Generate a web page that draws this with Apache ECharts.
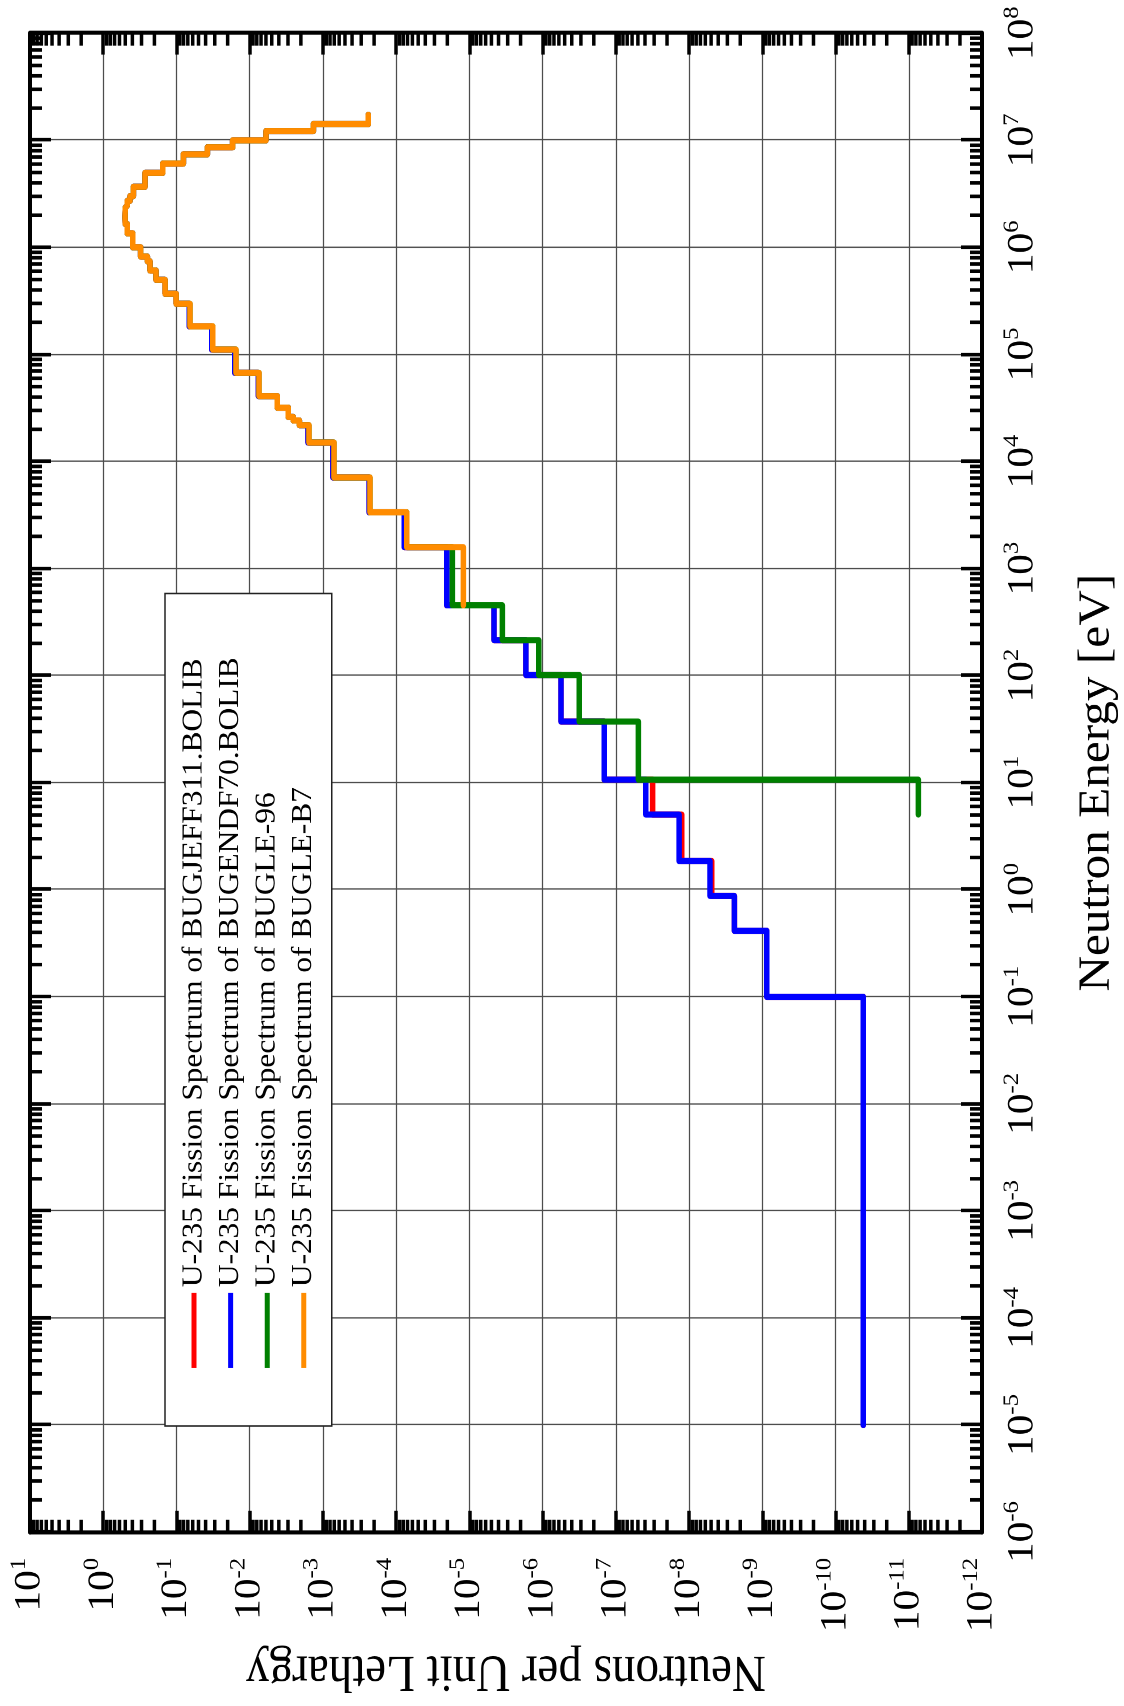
<!DOCTYPE html>
<html>
<head>
<meta charset="utf-8">
<title>U-235 Fission Spectrum</title>
<script src="https://cdn.jsdelivr.net/npm/echarts@6/dist/echarts.min.js"></script>
<style>
  html, body { margin: 0; padding: 0; background: #ffffff; }
  body { width: 1124px; height: 1706px; overflow: hidden; position: relative; }
  /* the plot is drawn upright, then turned a quarter turn like the original figure */
  #chart {
    position: absolute; left: 0; top: 0;
    width: 1523px; height: 1124px;
    transform-origin: 0 0;
    transform: translate(0, 1706px) rotate(-90deg) scaleX(1.12);
  }
</style>
</head>
<body>
<div id="chart"></div>
<script>
const FONT = "'Liberation Serif', 'Times New Roman', serif";

// group boundaries in eV, highest first
const groupBounds = [
    1.7332e7, 1.4191e7, 1.2214e7, 1.0e7, 8.6071e6, 7.4082e6, 6.0653e6, 4.9659e6,
    3.6788e6, 3.0119e6, 2.7253e6, 2.466e6, 2.3653e6, 2.3457e6, 2.3069e6, 2.2313e6,
    1.9205e6, 1.653e6, 1.3534e6, 1.0026e6, 8.2085e5, 7.4274e5, 6.081e5, 4.9787e5,
    3.6883e5, 2.9721e5, 1.8316e5, 1.1109e5, 6.7379e4, 4.0868e4, 3.1828e4, 2.6058e4,
    2.4176e4, 2.1875e4, 1.5034e4, 7.1017e3, 3.3546e3, 1.5846e3, 454.0, 214.45,
    101.3, 37.266, 10.677, 5.0435, 1.8554, 0.87642, 0.41399, 0.1, 1.0e-5
];

// neutrons per unit lethargy, one value per group (same order as groupBounds)
const jeff311Flux = [
    2.4e-4, 1.35e-3, 6.0e-3, 1.71e-2, 3.79e-2, 8.05e-2, 0.154, 0.269,
    0.388, 0.431, 0.469, 0.49, 0.495, 0.5, 0.5, 0.505,
    0.5, 0.469, 0.396, 0.308, 0.25, 0.23, 0.19, 0.143,
    0.101, 6.7e-2, 3.3e-2, 1.6e-2, 7.6e-3, 4.2e-3, 2.97e-3, 2.54e-3,
    2.1e-3, 1.6e-3, 7.3e-4, 2.34e-4, 7.74e-5, 2.04e-5, 4.61e-6, 1.69e-6,
    5.61e-7, 1.44e-7, 3.14e-8, 1.26e-8, 4.91e-9, 2.41e-9, 8.7e-10, 4.18e-11
];
const endf70Flux = [
    2.4e-4, 1.35e-3, 6.0e-3, 1.71e-2, 3.79e-2, 8.05e-2, 0.154, 0.269,
    0.388, 0.431, 0.469, 0.49, 0.495, 0.5, 0.5, 0.505,
    0.5, 0.469, 0.396, 0.308, 0.25, 0.23, 0.19, 0.143,
    0.101, 6.7e-2, 3.3e-2, 1.6e-2, 7.6e-3, 4.2e-3, 2.97e-3, 2.54e-3,
    2.1e-3, 1.6e-3, 7.3e-4, 2.34e-4, 7.74e-5, 2.04e-5, 4.61e-6, 1.69e-6,
    5.61e-7, 1.44e-7, 3.91e-8, 1.37e-8, 5.18e-9, 2.41e-9, 8.7e-10, 4.18e-11
];
const bugle96Flux = [
    2.4e-4, 1.35e-3, 6.0e-3, 1.71e-2, 3.79e-2, 8.05e-2, 0.154, 0.269,
    0.388, 0.431, 0.469, 0.49, 0.495, 0.5, 0.5, 0.505,
    0.5, 0.469, 0.396, 0.308, 0.25, 0.23, 0.19, 0.143,
    0.101, 6.53e-2, 3.2e-2, 1.54e-2, 7.46e-3, 4.2e-3, 2.97e-3, 2.54e-3,
    2.1e-3, 1.55e-3, 7.06e-4, 2.28e-4, 7.18e-5, 1.71e-5, 3.55e-6, 1.13e-6,
    3.16e-7, 4.93e-8, 7.4e-12, null, null, null, null, null
];
const bugleB7Flux = [
    2.4e-4, 1.35e-3, 6.0e-3, 1.71e-2, 3.79e-2, 8.05e-2, 0.154, 0.269,
    0.388, 0.431, 0.469, 0.49, 0.495, 0.5, 0.5, 0.505,
    0.5, 0.469, 0.396, 0.308, 0.25, 0.23, 0.19, 0.143,
    0.101, 6.53e-2, 3.2e-2, 1.54e-2, 7.46e-3, 4.2e-3, 2.97e-3, 2.54e-3,
    2.1e-3, 1.55e-3, 7.06e-4, 2.28e-4, 7.18e-5, 1.21e-5, null, null,
    null, null, null, null, null, null, null, null
];

const seriesNames = [
    "U-235 Fission Spectrum of BUGJEFF311.BOLIB",
    "U-235 Fission Spectrum of BUGENDF70.BOLIB",
    "U-235 Fission Spectrum of BUGLE-96",
    "U-235 Fission Spectrum of BUGLE-B7",
];
const seriesColors = ["#ff0000", "#0000ff", "#008000", "#ff8c00"];
const seriesFlux = [jeff311Flux, endf70Flux, bugle96Flux, bugleB7Flux];

// axis ranges (decades)
const energyExp = [-6, 8];
const fluxExp = [-12, 1];

// each group becomes a flat step between its two boundaries
function histogram(values) {
    const pts = [];
    for (let i = 0; i < values.length; i++) {
        if (values[i] == null) continue;
        pts.push([groupBounds[i], values[i]]);
        pts.push([groupBounds[i + 1], values[i]]);
    }
    return pts;
}

function minorTicks(exps) {
    const out = [];
    for (let e = exps[0]; e < exps[1]; e++) {
        for (let m = 2; m <= 9; m++) out.push(m * Math.pow(10, e));
    }
    return out;
}

function powerLabel(v) {
    const e = Math.round(Math.log10(v));
    return "{b|10}{s|" + e + "}";
}

const labelRich = {
    b: { fontFamily: FONT, fontSize: 37, lineHeight: 44, color: "#000" },
    s: { fontFamily: FONT, fontSize: 22, lineHeight: 8, verticalAlign: "top", color: "#000" },
};

const chart = echarts.init(document.getElementById("chart"), null, {
    renderer: "canvas",
    devicePixelRatio: 2,
});

const lineSeries = seriesNames.map(function (name, i) {
    return {
        name: name,
        type: "line",
        data: histogram(seriesFlux[i]),
        color: seriesColors[i],
        showSymbol: false,
        symbol: "none",
        lineStyle: { width: 5.5, color: seriesColors[i], cap: "round", join: "round" },
        z: 3 + i,
        animation: false,
    };
});

const energyMinor = {
    type: "custom",
    name: "energyMinor",
    silent: true,
    z: 10,
    data: minorTicks(energyExp).map(function (v) { return [v, 1]; }),
    renderItem: function (params, api) {
        const x = api.coord([api.value(0), 1])[0];
        const r = params.coordSys;
        const st = { stroke: "#000", lineWidth: 3.2 };
        return {
            type: "group",
            children: [
                { type: "line", shape: { x1: x, y1: r.y, x2: x, y2: r.y + 12 }, style: st },
                { type: "line", shape: { x1: x, y1: r.y + r.height, x2: x, y2: r.y + r.height - 12 }, style: st },
            ],
        };
    },
};

const fluxMinor = {
    type: "custom",
    name: "fluxMinor",
    silent: true,
    z: 10,
    data: minorTicks(fluxExp).map(function (v) { return [1, v]; }),
    renderItem: function (params, api) {
        const y = api.coord([1, api.value(1)])[1];
        const r = params.coordSys;
        const st = { stroke: "#000", lineWidth: 3.5 };
        return {
            type: "group",
            children: [
                { type: "line", shape: { x1: r.x, y1: y, x2: r.x + 11, y2: y }, style: st },
                { type: "line", shape: { x1: r.x + r.width, y1: y, x2: r.x + r.width - 11, y2: y }, style: st },
            ],
        };
    },
};

const energyAxisBase = {
    type: "log",
    logBase: 10,
    min: Math.pow(10, energyExp[0]),
    max: Math.pow(10, energyExp[1]),
    splitNumber: energyExp[1] - energyExp[0],
    interval: 1,
    axisLine: { show: true, onZero: false, lineStyle: { color: "#000", width: 4 } },
    axisTick: { show: true, inside: true, length: 21, lineStyle: { color: "#000", width: 3.2 } },
};
const fluxAxisBase = {
    type: "log",
    logBase: 10,
    min: Math.pow(10, fluxExp[0]),
    max: Math.pow(10, fluxExp[1]),
    splitNumber: fluxExp[1] - fluxExp[0],
    interval: 1,
    axisLine: { show: true, onZero: false, lineStyle: { color: "#000", width: 3.6 } },
    axisTick: { show: true, inside: true, length: 19, lineStyle: { color: "#000", width: 3.5 } },
};

var option = {
    backgroundColor: "#ffffff",
    animation: false,
    grid: { left: 141, right: 29.5, top: 30, bottom: 142, containLabel: false },
    legend: {
        orient: "vertical",
        left: 250,
        top: 165,
        data: seriesNames,
        icon: "rect",
        itemWidth: 67,
        itemHeight: 5,
        itemGap: 8.6,
        padding: [15, 57, 14, 52],
        backgroundColor: "#ffffff",
        borderColor: "#222",
        borderWidth: 1.5,
        selectedMode: false,
        textStyle: { fontFamily: FONT, fontSize: 28, lineHeight: 28, color: "#000" },
    },
    xAxis: [
        Object.assign({}, energyAxisBase, {
            position: "bottom",
            axisLabel: {
                margin: 19,
                formatter: powerLabel,
                rich: labelRich,
                showMinLabel: true,
                showMaxLabel: true,
                hideOverlap: false,
            },
            splitLine: { show: true, lineStyle: { color: "#4d4d4d", width: 1.2 } },
            name: "Neutron Energy [eV]",
            nameLocation: "middle",
            nameGap: 93,
            nameTextStyle: { fontFamily: FONT, fontSize: 44, color: "#000" },
        }),
        Object.assign({}, energyAxisBase, {
            position: "top",
            axisLabel: { show: false },
            splitLine: { show: false },
        }),
    ],
    yAxis: [
        Object.assign({}, fluxAxisBase, {
            position: "left",
            axisLabel: {
                margin: 23,
                formatter: powerLabel,
                rich: labelRich,
                showMinLabel: true,
                showMaxLabel: true,
                hideOverlap: false,
            },
            splitLine: { show: true, lineStyle: { color: "#4d4d4d", width: 1.2 } },
            name: "Neutrons per Unit Lethargy",
            nameLocation: "middle",
            nameRotate: 90,
            nameGap: 91,
            nameTextStyle: { fontFamily: FONT, fontSize: 47, color: "#000" },
        }),
        Object.assign({}, fluxAxisBase, {
            position: "right",
            axisLabel: { show: false },
            splitLine: { show: false },
        }),
    ],
    series: lineSeries.concat([energyMinor, fluxMinor]),
};

chart.setOption(option);
</script>
</body>
</html>
